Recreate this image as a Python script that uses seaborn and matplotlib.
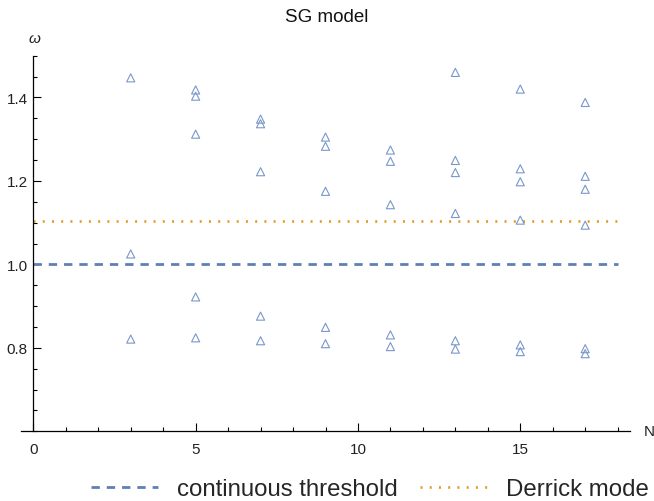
import numpy as np
import pandas as pd
import matplotlib
matplotlib.use("Agg")
import matplotlib.pyplot as plt
from matplotlib.ticker import MultipleLocator, FixedLocator
import seaborn as sns

# Oscillation frequencies of the SG kink chains for odd N
n_values = [3, 3, 3,
            5, 5, 5, 5, 5,
            7, 7, 7, 7, 7,
            9, 9, 9, 9, 9,
            11, 11, 11, 11, 11,
            13, 13, 13, 13, 13, 13,
            15, 15, 15, 15, 15, 15,
            17, 17, 17, 17, 17, 17]
omega_values = [1.447, 1.025, 0.821,
                1.418, 1.403, 1.312, 0.922, 0.824,
                1.348, 1.337, 1.222, 0.876, 0.817,
                1.305, 1.283, 1.175, 0.849, 0.810,
                1.274, 1.247, 1.143, 0.831, 0.803,
                1.460, 1.249, 1.220, 1.122, 0.817, 0.797,
                1.420, 1.229, 1.198, 1.106, 0.807, 0.791,
                1.388, 1.211, 1.180, 1.094, 0.798, 0.786]

threshold_level = 1.0
derrick_level = 1.103
line_span = [0, 18]

x_major = [0, 5, 10, 15]
y_major = [0.8, 1.0, 1.2, 1.4]
y_labels = ["0.8", "1.0", "1.2", "1.4"]

blue = "#5E81B5"
marker_blue = "#7A97CB"
orange = "#E19C24"

sns.set_theme(style="white")
plt.rcParams["font.family"] = ["Liberation Sans", "DejaVu Sans"]

fig = plt.figure(figsize=(6.54, 5.02), dpi=100)
ax = fig.add_axes([21 / 654, 1 - 432.3 / 502, (630 - 21) / 654, (432.3 - 56.7) / 502])

df = pd.DataFrame({"N": n_values, "omega": omega_values})
sns.scatterplot(data=df, x="N", y="omega", marker="^", s=34,
                facecolor="none", edgecolor=marker_blue, linewidth=0.8,
                ax=ax, zorder=3, legend=False)

thr = ax.hlines(threshold_level, line_span[0], line_span[1], color=blue,
                linewidth=2.0, linestyles=(0, (3.0, 2.5)), zorder=2,
                label="continuous threshold")
der = ax.hlines(derrick_level, line_span[0], line_span[1], color=orange,
                linewidth=1.9, linestyles=(0, (0.75, 2.75)), zorder=2,
                label="Derrick mode")

ax.set_xlim(-0.38, 18.38)
ax.set_ylim(0.6, 1.5)

for side in ["top", "right"]:
    ax.spines[side].set_visible(False)
ax.spines["left"].set_position(("data", 0))
for side in ["left", "bottom"]:
    ax.spines[side].set_color("black")
    ax.spines[side].set_linewidth(0.9)

ax.xaxis.set_major_locator(FixedLocator(x_major))
ax.xaxis.set_minor_locator(MultipleLocator(1))
ax.yaxis.set_major_locator(FixedLocator(y_major))
ax.set_yticklabels(y_labels)
ax.yaxis.set_minor_locator(MultipleLocator(0.05))

ax.tick_params(which="both", direction="in", color="black", width=0.8,
               bottom=True, left=True)
ax.tick_params(which="major", length=5.5, labelsize=11, labelcolor="#222222")
ax.tick_params(which="minor", length=3)
ax.tick_params(axis="x", which="major", pad=8)
ax.tick_params(axis="y", which="major", pad=4)

ax.set_xlabel("")
ax.set_ylabel("")
ax.grid(False)

ax.annotate("N", xy=(1, 0), xycoords="axes fraction", xytext=(14, 0),
            textcoords="offset pixels", ha="left", va="center",
            fontsize=11, color="#222222")
ax.annotate("ω", xy=(0, 1.5), xycoords="data", xytext=(1, 18),
            textcoords="offset pixels", ha="center", va="center",
            fontsize=11, style="italic", color="#222222")

fig.text(0.5, 1 - 17 / 502, "SG model", ha="center", va="center",
         fontsize=13.5, color="#111111")

fig.legend(handles=[thr, der], loc="center",
           bbox_to_anchor=(370 / 654, 1 - 490 / 502),
           ncol=2, frameon=False, fontsize=17.3, handlelength=2.8,
           handletextpad=0.8, columnspacing=0.9)

fig.savefig("out.png", dpi=100)
